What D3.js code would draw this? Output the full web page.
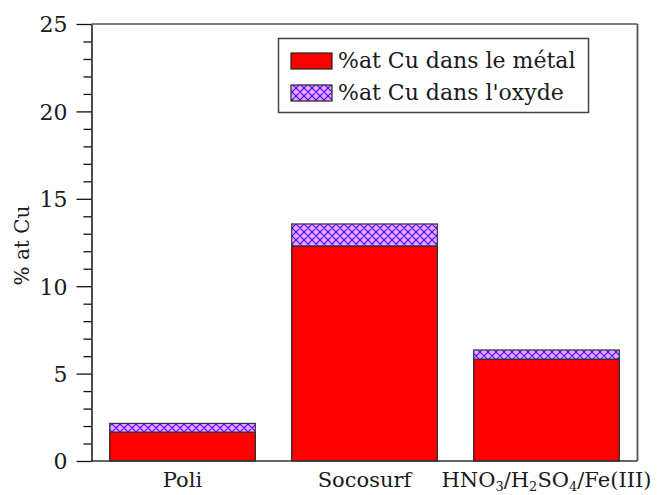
<!DOCTYPE html>
<html>
<head>
<meta charset="utf-8">
<script src="https://cdn.jsdelivr.net/npm/d3@7/dist/d3.min.js"></script>
<style>
  html, body { margin: 0; padding: 0; background: #fff; }
  svg { display: block; }
  text { font-family: "DejaVu Serif", "Liberation Serif", serif; fill: #1a1a1a; }
</style>
</head>
<body>
<svg id="chart" width="659" height="495"></svg>
<script>
// Copper content per surface treatment (atomic %)
const categories = ["Poli", "Socosurf", "HNO3/H2SO4/Fe(III)"];
const metalValues = [1.65, 12.3, 5.82];
const oxideValues = [0.5, 1.26, 0.53];
const seriesNames = ["%at Cu dans le métal", "%at Cu dans l'oxyde"];
const yMajorTicks = [0, 5, 10, 15, 20, 25];
const yMinorTicks = d3.range(0, 26, 1).filter(v => v % 5 !== 0);

const svg = d3.select("#chart");
const W = 659, H = 495;
const margin = { left: 91.5, right: W - 637.5, top: 24, bottom: H - 461 };

const x = d3.scaleBand()
  .domain(categories)
  .range([margin.left, W - margin.right])
  .paddingInner(0.2)
  .paddingOuter(0.1);

const y = d3.scaleLinear()
  .domain([0, 25])
  .range([H - margin.bottom, margin.top]);

// Crosshatch fill for the oxide part
const defs = svg.append("defs");
const pat = defs.append("pattern")
  .attr("id", "hatch")
  .attr("patternUnits", "userSpaceOnUse")
  .attr("width", 8).attr("height", 8);
pat.append("rect").attr("width", 8).attr("height", 8).attr("fill", "#ff99ff");
pat.append("path")
  .attr("d", "M0,0 L8,8 M8,0 L0,8 M-1,7 L1,9 M7,-1 L9,1 M-1,1 L1,-1 M7,9 L9,7")
  .attr("stroke", "#1a1aff").attr("stroke-width", 1.1).attr("fill", "none");

// Bars: metal at bottom, oxide stacked on top
const g = svg.append("g");
categories.forEach((c, i) => {
  const m = metalValues[i], o = oxideValues[i];
  g.append("rect")
    .attr("x", x(c)).attr("width", x.bandwidth())
    .attr("y", y(m)).attr("height", y(0) - y(m))
    .attr("fill", "#ff0000").attr("stroke", "#222").attr("stroke-width", 1.2);
  g.append("rect")
    .attr("x", x(c)).attr("width", x.bandwidth())
    .attr("y", y(m + o)).attr("height", y(m) - y(m + o))
    .attr("fill", "url(#hatch)").attr("stroke", "#333").attr("stroke-width", 1.2);
});

// Frame: top and right edges
svg.append("line")
  .attr("x1", margin.left).attr("x2", W - margin.right)
  .attr("y1", y(25)).attr("y2", y(25))
  .attr("stroke", "#555").attr("stroke-width", 1.5);
svg.append("line")
  .attr("x1", W - margin.right).attr("x2", W - margin.right)
  .attr("y1", y(25)).attr("y2", y(0))
  .attr("stroke", "#555").attr("stroke-width", 1.8);

// Bottom axis line
svg.append("line")
  .attr("x1", margin.left).attr("x2", W - margin.right)
  .attr("y1", y(0)).attr("y2", y(0))
  .attr("stroke", "#333").attr("stroke-width", 1.5);

// Y axis with major and minor ticks
const yAxisMinor = d3.axisLeft(y).tickValues(yMinorTicks).tickSize(8).tickFormat("");
svg.append("g").attr("transform", `translate(${margin.left},0)`).call(yAxisMinor)
  .call(s => s.select(".domain").remove())
  .call(s => s.selectAll("line").attr("stroke", "#111").attr("stroke-width", 1.3));

const yAxis = d3.axisLeft(y).tickValues(yMajorTicks).tickSize(15).tickPadding(9).tickSizeOuter(0);
const ya = svg.append("g").attr("transform", `translate(${margin.left},0)`).call(yAxis);
ya.select(".domain").attr("stroke", "#111").attr("stroke-width", 1.5);
ya.selectAll("line").attr("stroke", "#111").attr("stroke-width", 1.3);
ya.selectAll("text")
  .style("font-family", "'DejaVu Serif', serif")
  .style("font-size", "22px").attr("fill", "#1a1a1a").attr("dy", "0.36em");

// Y axis title
svg.append("text")
  .attr("transform", `translate(29,${(y(0) + y(25)) / 2 + 3}) rotate(-90)`)
  .attr("text-anchor", "middle")
  .style("font-size", "20px")
  .text("% at Cu");

// Category labels (with chemical subscripts)
const labelWidths = { "Poli": 43, "Socosurf": 99, "HNO3/H2SO4/Fe(III)": 218 };
const xl = svg.append("g");
categories.forEach(c => {
  const t = xl.append("text")
    .attr("x", x(c) + x.bandwidth() / 2)
    .attr("y", 487)
    .attr("text-anchor", "middle")
    .style("font-size", "21px");
  const parts = c.split(/(\d)/).filter(s => s.length);
  let shift = 0;
  parts.forEach(p => {
    if (/^\d$/.test(p)) {
      t.append("tspan").attr("dy", 4 - shift).style("font-size", "13px").text(p);
      shift = 4;
    } else {
      t.append("tspan").attr("dy", -shift).text(p);
      shift = 0;
    }
  });
  const len = t.node().getComputedTextLength();
  if (len > labelWidths[c]) {
    t.attr("textLength", labelWidths[c]).attr("lengthAdjust", "spacingAndGlyphs");
  }
});

// Legend
const lg = svg.append("g");
lg.append("rect")
  .attr("x", 278.5).attr("y", 38.5).attr("width", 310).attr("height", 74)
  .attr("fill", "#fff").attr("stroke", "#444").attr("stroke-width", 1.5);
const fills = ["#ff0000", "url(#hatch)"];
seriesNames.forEach((name, i) => {
  const yy = 53 + i * 32;
  lg.append("rect")
    .attr("x", 291).attr("y", yy).attr("width", 41).attr("height", 16)
    .attr("fill", fills[i]).attr("stroke", "#222").attr("stroke-width", 1.2);
  lg.append("text")
    .attr("x", 338).attr("y", yy + 15)
    .style("font-size", "22px")
    .text(name);
});
</script>
</body>
</html>
